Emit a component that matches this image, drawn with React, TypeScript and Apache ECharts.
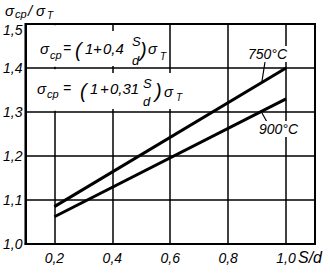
import React, { useEffect, useRef } from 'react';
import * as echarts from 'echarts';

// S/d values at the ends of each line
const sdValues = [0.2, 1.0];
// sigma_cp / sigma_T for 750 °C and 900 °C
const ratio750 = [1.085, 1.4];
const ratio900 = [1.062, 1.33];
const seriesNames = ['750°C', '900°C'];
const xMin = 0.1;
const xMax = 1.1;
const yMin = 1.0;
const yMax = 1.5;

const FONT = '"Liberation Sans", Arial, sans-serif';

const fmt = (v: number) => v.toFixed(1).replace('.', ',');

function txt(text: string, x: number, y: number, size: number, extra: any = {}) {
  return {
    type: 'text',
    x,
    y,
    z: 102,
    style: {
      text,
      fontSize: size,
      fontStyle: 'italic',
      fontFamily: FONT,
      fill: '#000',
      verticalAlign: 'middle',
      align: 'left',
      ...extra,
    },
  };
}

export default function App() {
  const ref = useRef<HTMLDivElement>(null);
  useEffect(() => {
    document.body.style.margin = '0';
    const chart = echarts.init(ref.current!, null, { renderer: 'svg' });
    const labelStyle = {
      fontSize: 14,
      fontStyle: 'italic' as const,
      fontFamily: FONT,
      color: '#000',
    };
    chart.setOption({
      animation: false,
      grid: {
        left: 25,
        top: 24,
        right: 15,
        bottom: 29,
        show: true,
        borderColor: '#000',
        borderWidth: 2,
        backgroundColor: '#fff',
      },
      xAxis: {
        type: 'value',
        min: xMin,
        max: xMax,
        interval: 0.1,
        axisLine: { show: true, onZero: false, lineStyle: { color: '#000', width: 2 } },
        axisTick: { show: false },
        splitLine: {
          show: true,
          lineStyle: { color: ['transparent', '#000'], width: 1.5 },
        },
        axisLabel: {
          ...labelStyle,
          margin: 7,
          formatter: (v: number) => (Math.round(v * 10) % 2 === 0 ? fmt(v) : ''),
        },
      },
      yAxis: {
        type: 'value',
        min: yMin,
        max: yMax,
        interval: 0.1,
        axisLine: { show: true, lineStyle: { color: '#000', width: 2 } },
        axisTick: { show: false },
        splitLine: { show: true, lineStyle: { color: '#000', width: 1.5 } },
        axisLabel: {
          ...labelStyle,
          margin: 3,
          formatter: (v: number) => (Math.abs(v - yMax) < 1e-6 ? '{top|' + fmt(v) + '}' : fmt(v)),
          rich: {
            top: { ...labelStyle, padding: [12, 0, 0, 0] },
          },
        },
      },
      series: [
        {
          name: seriesNames[0],
          type: 'line',
          data: sdValues.map((x, i) => [x, ratio750[i]]),
          symbol: 'none',
          lineStyle: { color: '#000', width: 3 },
          z: 5,
        },
        {
          name: seriesNames[1],
          type: 'line',
          data: sdValues.map((x, i) => [x, ratio900[i]]),
          symbol: 'none',
          lineStyle: { color: '#000', width: 3 },
          z: 5,
        },
      ],
      graphic: [
        // white boxes behind the formulas
        { type: 'rect', z: 100, shape: { x: 36, y: 31, width: 132, height: 35 }, style: { fill: '#fff' } },
        { type: 'rect', z: 100, shape: { x: 32, y: 73, width: 154, height: 36 }, style: { fill: '#fff' } },
        { type: 'rect', z: 100, shape: { x: 49, y: 25.2, width: 8, height: 41.6 }, style: { fill: '#fff' } },
        { type: 'rect', z: 100, shape: { x: 49, y: 69.2, width: 8, height: 41.6 }, style: { fill: '#fff' } },
        // axis title
        txt('σ', 5, 10, 15),
        txt('cp', 15, 14, 11),
        txt('/', 28, 10, 15),
        txt('σ', 36, 10, 15),
        txt('T', 47, 15, 10),
        // formula 1
        txt('σ', 40, 48, 15),
        txt('cp', 50, 55, 11),
        txt('=', 63, 48, 14),
        txt('(', 75, 50, 20),
        txt('1', 85, 48, 15),
        txt('+', 93, 48, 15),
        txt('0,4', 103, 48, 15),
        txt('S', 132, 41, 13),
        txt('d', 132, 60, 13),
        txt(')', 140, 50, 20),
        txt('σ', 148, 48, 15),
        txt('T', 160, 56, 10),
        // formula 2
        txt('σ', 37, 88, 15),
        txt('cp', 47, 94, 11),
        txt('=', 63, 88, 14),
        txt('(', 80, 91, 20),
        txt('1', 90, 88, 15),
        txt('+', 100, 88, 15),
        txt('0,31', 110, 88, 15),
        txt('S', 143, 83, 13),
        txt('d', 143, 101, 13),
        txt(')', 155, 91, 20),
        txt('σ', 164, 91, 15),
        txt('T', 176, 97, 10),
        // series labels
        txt(seriesNames[0], 247, 54, 14, { backgroundColor: '#fff', padding: [1, 1, 1, 1] }),
        txt(seriesNames[1], 258, 129, 14, { backgroundColor: '#fff', padding: [1, 1, 1, 1] }),
        { type: 'line', z: 101, shape: { x1: 265, y1: 62, x2: 262, y2: 81 }, style: { stroke: '#000', lineWidth: 1.2 } },
        { type: 'line', z: 101, shape: { x1: 262, y1: 113, x2: 267, y2: 122 }, style: { stroke: '#000', lineWidth: 1.2 } },
        // x axis name
        txt('S/d', 298, 257, 16),
      ],
    });
    return () => chart.dispose();
  }, []);
  return <div ref={ref} style={{ width: 330, height: 273 }} />;
}
